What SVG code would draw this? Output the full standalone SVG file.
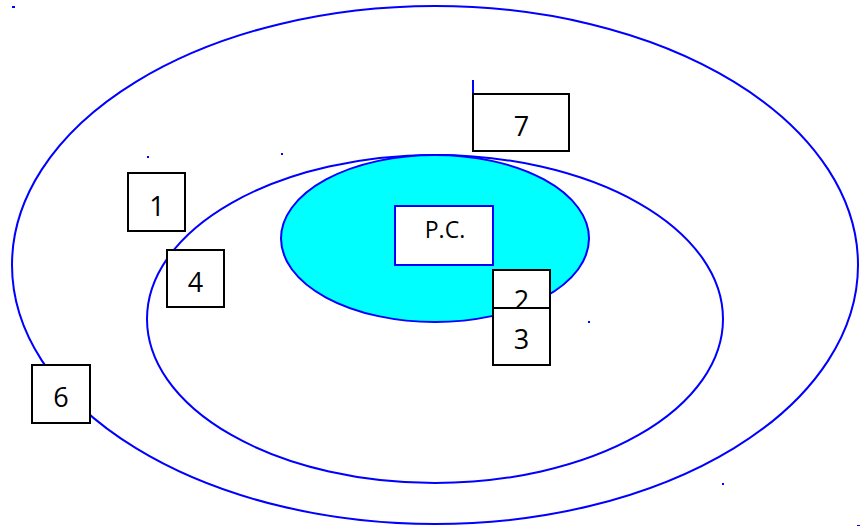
<svg xmlns="http://www.w3.org/2000/svg" width="862" height="526" viewBox="0 0 862 526">
<style>
.ring{fill:none;stroke:#0000ff;stroke-width:2}
.box{fill:#ffffff;stroke:#000000;stroke-width:2}
.num{font-family:"Open Sans","Liberation Sans",sans-serif;font-size:27px;fill:#000;text-anchor:middle}
.dot{fill:#0000ff}
</style>
<rect width="862" height="526" fill="#ffffff"/>
<g id="outer"><ellipse class="ring" cx="435" cy="265" rx="423" ry="259"/></g>
<g id="middle"><ellipse class="ring" cx="435" cy="319" rx="288" ry="164"/></g>
<g id="core"><ellipse cx="435" cy="238.5" rx="154" ry="83.5" fill="#00ffff" stroke="#0000ff" stroke-width="2"/></g>
<g id="marks">
<rect class="dot" x="12" y="6" width="3" height="2"/>
<rect class="dot" x="147" y="156" width="2" height="2"/>
<rect class="dot" x="281" y="153" width="2" height="2"/>
<rect class="dot" x="588" y="321" width="2" height="2"/>
<rect class="dot" x="722" y="483" width="2" height="2"/>
<rect class="dot" x="857" y="525" width="3" height="1"/>
<rect class="dot" x="472" y="80" width="2" height="19"/>
</g>
<g id="connectors"></g>
<g id="n1"><rect class="box" x="128" y="173" width="57" height="58"/><text class="num" x="157" y="216">1</text></g>
<g id="n4"><rect class="box" x="167" y="250" width="57" height="57"/><text class="num" x="195.5" y="292">4</text></g>
<g id="n7"><rect class="box" x="473" y="94" width="96" height="57"/><text class="num" x="521.5" y="136">7</text></g>
<g id="npc"><rect x="395" y="206" width="98" height="59" fill="#ffffff" stroke="#0000ff" stroke-width="2"/><text x="445" y="238" font-family="Open Sans, Liberation Sans, sans-serif" font-size="23" text-anchor="middle">P.C.</text></g>
<g id="n2"><rect class="box" x="493" y="270" width="57" height="40"/><text class="num" x="521.5" y="310">2</text></g>
<g id="n3"><rect class="box" x="493" y="308" width="57" height="57"/><text class="num" x="521.5" y="349">3</text></g>
<g id="n6"><rect class="box" x="32" y="365" width="58" height="58"/><text class="num" x="61" y="407">6</text></g>
</svg>
